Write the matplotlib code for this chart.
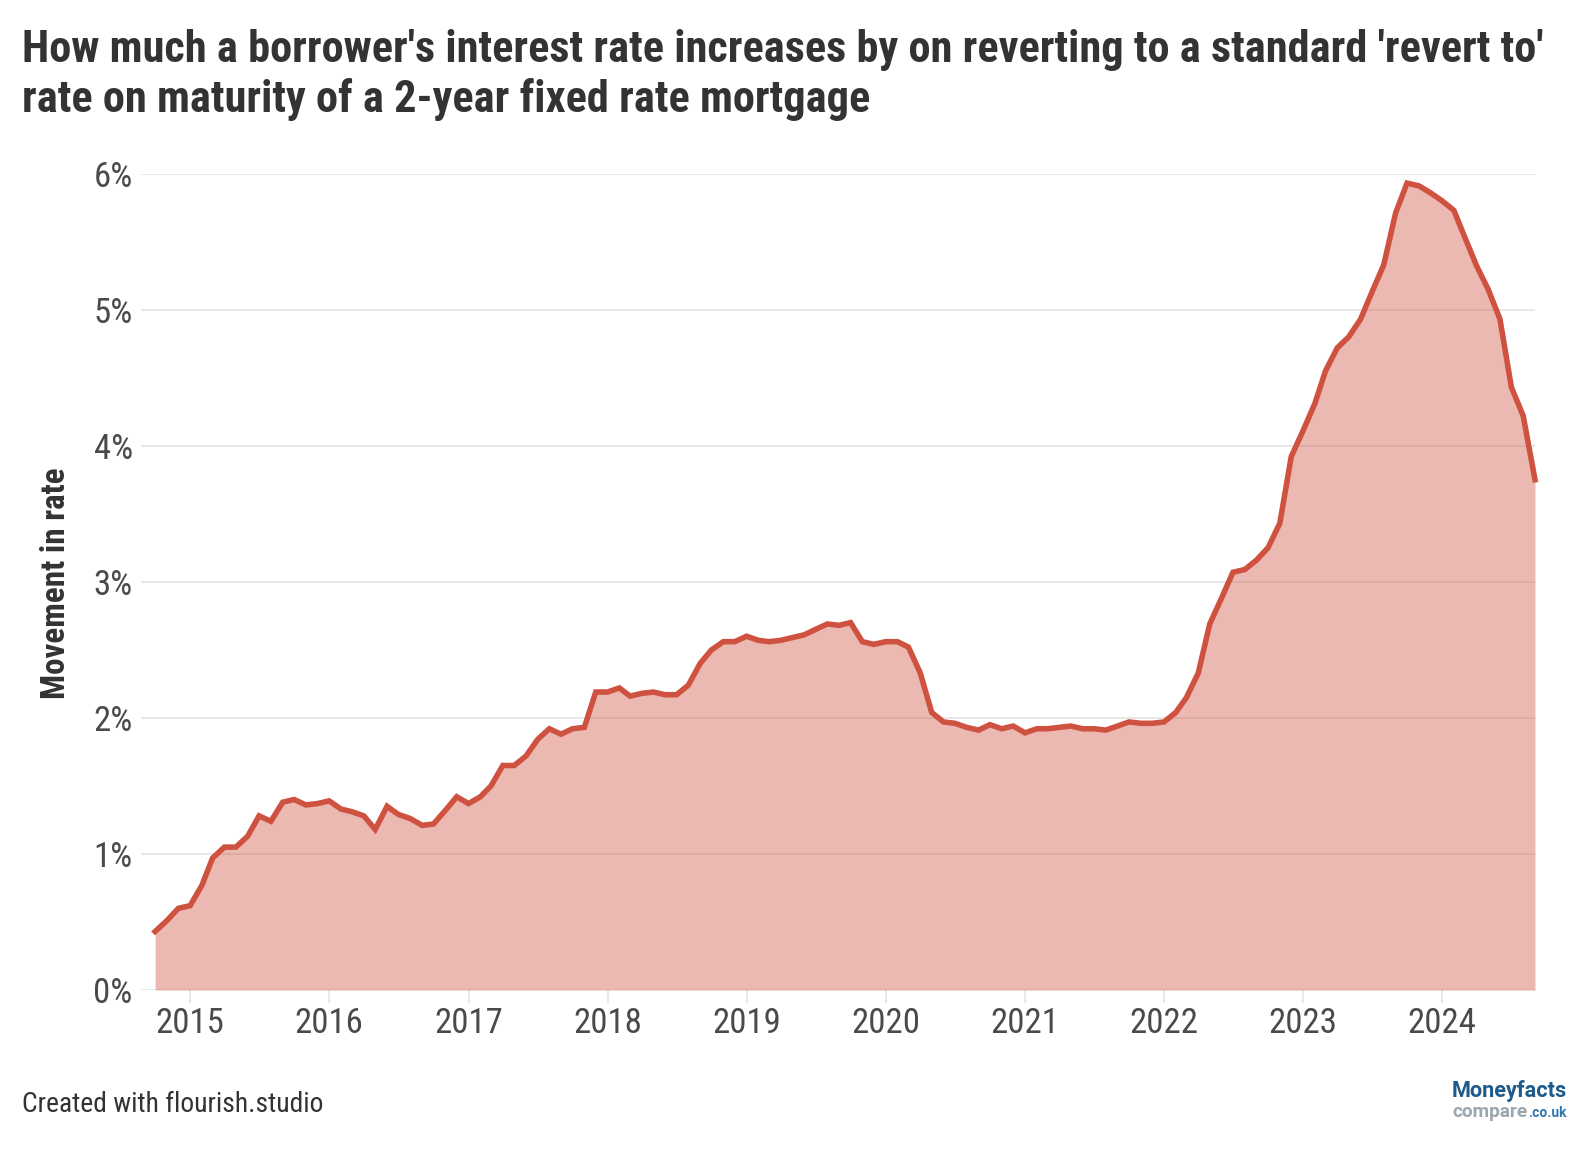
import matplotlib
matplotlib.use("Agg")
import matplotlib.pyplot as plt
import matplotlib.dates as mdates
from matplotlib import font_manager as fm
import pandas as pd

# monthly series, Oct 2014 .. Sep 2024 (percentage points)
start_month = "2014-10-01"
rate_movement = [
    0.43, 0.51, 0.60, 0.62, 0.77, 0.97, 1.05, 1.05, 1.13, 1.28,
    1.24, 1.38, 1.40, 1.36, 1.37, 1.39, 1.33, 1.31, 1.28, 1.18,
    1.35, 1.29, 1.26, 1.21, 1.22, 1.32, 1.42, 1.37, 1.42, 1.50,
    1.65, 1.65, 1.72, 1.84, 1.92, 1.88, 1.92, 1.93, 2.19, 2.19,
    2.22, 2.16, 2.18, 2.19, 2.17, 2.17, 2.24, 2.40, 2.50, 2.56,
    2.56, 2.60, 2.57, 2.56, 2.57, 2.59, 2.61, 2.65, 2.69, 2.68,
    2.70, 2.56, 2.54, 2.56, 2.56, 2.52, 2.33, 2.04, 1.97, 1.96,
    1.93, 1.91, 1.95, 1.92, 1.94, 1.89, 1.92, 1.92, 1.93, 1.94,
    1.92, 1.92, 1.91, 1.94, 1.97, 1.96, 1.96, 1.97, 2.04, 2.15,
    2.33, 2.69, 2.88, 3.07, 3.09, 3.16, 3.25, 3.43, 3.92, 4.11,
    4.31, 4.55, 4.72, 4.80, 4.93, 5.13, 5.33, 5.71, 5.93, 5.91,
    5.86, 5.80, 5.73, 5.53, 5.32, 5.15, 4.93, 4.43, 4.22, 3.75,
]
year_ticks = list(range(2015, 2025))
pct_ticks = [0, 1, 2, 3, 4, 5, 6]

title_lines = [
    "How much a borrower's interest rate increases by on reverting to a standard 'revert to'",
    "rate on maturity of a 2-year fixed rate mortgage",
]
y_title = "Movement in rate"
footer = "Created with flourish.studio"

LINE = "#cf5240"
GRID = "#e6e6e6"
TEXT = "#333333"
TICK_TEXT = "#4a4a4a"

W, H, DPI = 1592, 1150, 100

installed = {f.name for f in fm.fontManager.ttflist}
condensed = "Roboto Condensed" in installed
FAMILY = "Roboto Condensed" if condensed else "Roboto"
plt.rcParams["font.family"] = [FAMILY, "DejaVu Sans"]
LOGO_FONT = ["Roboto", "DejaVu Sans"]

months = pd.date_range(start_month, periods=len(rate_movement), freq="MS")

fig = plt.figure(figsize=(W / DPI, H / DPI), dpi=DPI)
renderer = fig.canvas.get_renderer()


def fit_width(txt, target_px):
    # rescale a text object so its rendered width matches target_px
    w = txt.get_window_extent(renderer).width
    txt.set_fontsize(txt.get_fontsize() * target_px / w)
    return txt.get_fontsize()


# plot area in pixel terms
left, right, top, bottom = 141, 1535, 173.6, 990
ax = fig.add_axes([left / W, 1 - bottom / H, (right - left) / W, (bottom - top) / H])

ax.fill_between(months, rate_movement, 0, color=LINE, alpha=0.4, lw=0, zorder=2)
ax.plot(months, rate_movement, color=LINE, lw=4, zorder=3, clip_on=False,
        solid_joinstyle="miter")

ax.set_ylim(0, 6)
ax.set_xlim(months[0] - pd.Timedelta(days=37), months[-1])

ax.set_yticks(pct_ticks)
ax.set_yticklabels([f"{v}%" for v in pct_ticks])
ax.set_xticks([pd.Timestamp(f"{y}-01-01") for y in year_ticks])
ax.xaxis.set_major_formatter(mdates.DateFormatter("%Y"))

tick_size = 25 if condensed else 22
ax.tick_params(axis="y", length=0, pad=6, labelsize=tick_size, labelcolor=TICK_TEXT)
ax.tick_params(axis="x", length=9, width=1.3, color=GRID, pad=3,
               labelsize=tick_size, labelcolor=TICK_TEXT)

ax.grid(axis="y", color=GRID, lw=1.3, zorder=0)
ax.set_axisbelow(True)
for s in ax.spines.values():
    s.set_visible(False)

# y axis title
yt = fig.text(56 / W, 1 - 583 / H, y_title, rotation=90, ha="center", va="center",
              fontsize=21, weight="bold", color=TEXT)
h = yt.get_window_extent(renderer).height
yt.set_fontsize(21 * 232 / h)

# title, sized so the first line spans the same width as the reference
t1 = fig.text(22 / W, 1 - 62 / H, title_lines[0], fontsize=26, weight="bold",
              color=TEXT, va="baseline")
title_size = fit_width(t1, 1524)
fig.text(22 / W, 1 - 112 / H, title_lines[1], fontsize=title_size, weight="bold",
         color=TEXT, va="baseline")

# footer
ft = fig.text(22 / W, 1 - 1112 / H, footer, fontsize=18, color=TEXT, va="baseline")
fit_width(ft, 302)

# logo
tm = fig.text(1452 / W, 1 - 1097 / H, "Moneyfacts", fontsize=14, weight="bold",
              color="#1f5a8c", ha="left", va="baseline", family=LOGO_FONT)
fit_width(tm, 115)
tc = fig.text(1452 / W, 1 - 1117 / H, "compare", fontsize=12, weight="bold",
              color="#9aa6ae", ha="left", va="baseline", family=LOGO_FONT)
fit_width(tc, 75)
tu = fig.text(1567 / W, 1 - 1117 / H, ".co.uk", fontsize=9, weight="bold",
              color="#2f77b0", ha="right", va="baseline", family=LOGO_FONT)
fit_width(tu, 38)

fig.savefig("out.png", dpi=DPI)
